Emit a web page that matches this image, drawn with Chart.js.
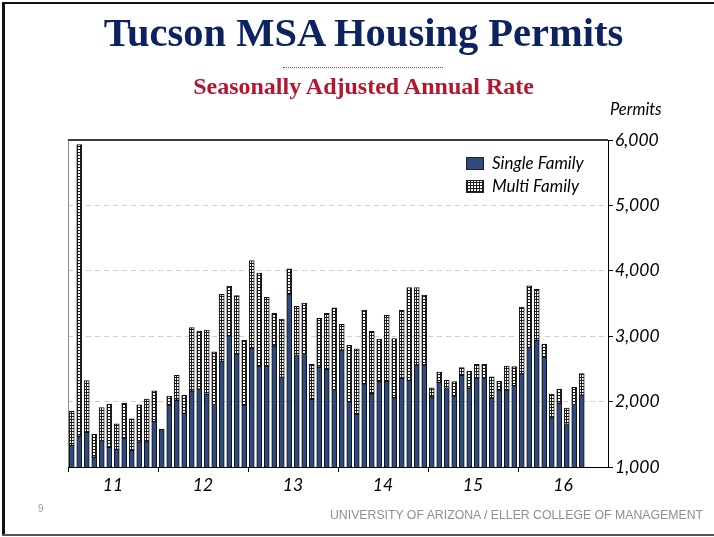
<!DOCTYPE html>
<html>
<head>
<meta charset="utf-8">
<script src="https://cdn.jsdelivr.net/npm/chart.js@4.4.0/dist/chart.umd.min.js"></script>
<style>
  html, body { margin: 0; padding: 0; background: #fff; }
  #page { position: relative; width: 714px; height: 537px; overflow: hidden; background: #fff; }
  #chart { position: absolute; left: 0; top: 0; }
  .title { position: absolute; left: 0; width: 727px; text-align: center; font-family: "Liberation Serif", "Times New Roman", serif; font-weight: bold; }
  #t1 { top: 9px; font-size: 40.5px; color: #0d2260; }
  #t2 { top: 73px; font-size: 24px; color: #b5152d; }
  #rule { position: absolute; left: 283px; top: 67px; width: 160px; border-top: 1px dotted #c0392b; }
  #permits { position: absolute; left: 610px; top: 99px; font: italic 16.5px Lato, "Open Sans", sans-serif; color: #000; }
  #pg { position: absolute; left: 38px; top: 503px; font: 10px "Liberation Sans", Arial, sans-serif; color: #999; }
  #foot { position: absolute; left: 330px; top: 507px; font: 13px "Liberation Sans Narrow", "Liberation Sans", Arial, sans-serif; color: #8f8f8f; white-space: nowrap; transform-origin: 0 0; }
  .edge { position: absolute; background: #111; }
</style>
</head>
<body>
<div id="page">
  <canvas id="chart" width="714" height="537"></canvas>
  <div class="edge" style="left:2px; top:2px; width:3px; height:534px;"></div>
  <div class="edge" style="left:2px; top:2px; width:712px; height:2px;"></div>
  <div class="edge" style="left:2px; top:534px; width:712px; height:2px; background:#555;"></div>
  <div class="title" id="t1">Tucson MSA Housing Permits</div>
  <div id="rule"></div>
  <div class="title" id="t2">Seasonally Adjusted Annual Rate</div>
  <div id="permits">Permits</div>
  <div id="pg">9</div>
  <div id="foot">UNIVERSITY OF ARIZONA / ELLER COLLEGE OF MANAGEMENT</div>
</div>
<script>
// Years shown on the axis (2011 - 2016), monthly bars
const yearLabels = ['11', '12', '13', '14', '15', '16'];

// Single family permits, SAAR, Jan 2011 - Sep 2016
const singleFamily = [
  1330, 1470, 1530, 1150, 1390, 1300, 1270, 1440, 1250, 1380, 1385, 1695,
  1577, 1945, 2020, 1820, 2160, 2190, 2110, 1955, 2615, 3010, 2725, 1945,
  2815, 2540, 2540, 2850, 2370, 3645, 2705, 2720, 2035, 2525, 2495, 2170,
  2785, 2000, 1805, 2275, 2120, 2310, 2310, 2060, 2355, 2325, 2560, 2560,
  2070, 2295, 2200, 2090, 2400, 2205, 2365, 2365, 2055, 2175, 2175, 2245,
  2425, 2830, 2935, 2680, 1750, 1975, 1650, 1955, 2100
];

// Multi family permits, SAAR, stacked on top
const multiFamily = [
  520, 4460, 790, 350, 520, 660, 390, 535, 485, 570, 655, 470,
  0, 140, 380, 280, 970, 890, 985, 805, 1025, 755, 895, 990,
  1340, 1425, 1055, 500, 890, 385, 750, 785, 535, 750, 855, 1265,
  395, 860, 1000, 1125, 955, 645, 1010, 905, 1040, 1420, 1185, 1070,
  140, 155, 130, 215, 120, 260, 205, 205, 325, 135, 370, 290,
  1020, 940, 780, 200, 365, 215, 250, 265, 330
];

const monthLabels = [];
yearLabels.forEach(y => {
  for (let m = 1; m <= 12; m++) monthLabels.push(m + '/' + y);
});

const canvas = document.getElementById('chart');
const ctx = canvas.getContext('2d');

// small grid pattern for the multi family bars
function makeChecker() {
  const c = document.createElement('canvas');
  c.width = 3; c.height = 3;
  const g = c.getContext('2d');
  g.fillStyle = '#1b1b1b';
  g.fillRect(0, 0, 3, 3);
  g.fillStyle = '#ffffff';
  g.fillRect(0, 0, 2, 2);
  return ctx.createPattern(c, 'repeat');
}
const checker = makeChecker();
const sfColor = '#2f4a7e';
const tickFont = { family: 'Lato, "Open Sans", sans-serif', size: 17.5, style: 'italic' };

// frame lines and the legend inside the plot
const framePlugin = {
  id: 'frame',
  afterDraw(chart) {
    const a = chart.chartArea;
    const c = chart.ctx;
    c.save();
    c.strokeStyle = '#8a8a8a';
    c.lineWidth = 1;
    c.beginPath();
    c.moveTo(a.left + 0.5, a.top);
    c.lineTo(a.left + 0.5, a.bottom);
    c.stroke();
    c.strokeStyle = '#3c3c3c';
    c.lineWidth = 2;
    c.beginPath();
    c.moveTo(a.left, a.top);
    c.lineTo(a.right, a.top);
    c.stroke();

    // legend
    const items = [
      { label: 'Single Family', fill: sfColor },
      { label: 'Multi Family', fill: checker }
    ];
    c.font = 'italic 17px Lato, "Open Sans", sans-serif';
    c.textBaseline = 'middle';
    items.forEach((it, i) => {
      const y = 157 + i * 23;
      c.fillStyle = it.fill;
      c.fillRect(466, y, 18, 13);
      c.strokeStyle = '#222';
      c.lineWidth = 1;
      c.strokeRect(466.5, y + 0.5, 17, 12);
      c.fillStyle = '#000';
      c.fillText(it.label, 492, y + 7);
    });
    c.restore();
  }
};

new Chart(ctx, {
  type: 'bar',
  data: {
    labels: monthLabels,
    datasets: [
      {
        label: 'Single Family',
        data: singleFamily,
        backgroundColor: sfColor,
        borderColor: '#111',
        borderWidth: 1,
        borderSkipped: false,
        barThickness: 5
      },
      {
        label: 'Multi Family',
        data: multiFamily,
        backgroundColor: checker,
        borderColor: '#111',
        borderWidth: 1,
        borderSkipped: false,
        barThickness: 5
      }
    ]
  },
  options: {
    responsive: false,
    animation: false,
    layout: { padding: { left: 68, top: 140, right: 0, bottom: 0 } },
    plugins: {
      legend: { display: false },
      tooltip: { enabled: false }
    },
    scales: {
      x: {
        stacked: true,
        afterFit: s => { s.height = 70; },
        grid: {
          offset: true,
          drawOnChartArea: false,
          drawTicks: true,
          tickLength: 5,
          tickColor: c => (c.index % 12 === 0 ? '#000' : 'rgba(0,0,0,0)')
        },
        border: { display: true, color: '#000', width: 1 },
        ticks: {
          autoSkip: false,
          maxRotation: 0,
          minRotation: 0,
          padding: 3,
          labelOffset: 3.75,
          color: '#000',
          font: tickFont,
          callback: (v, i) => (i % 12 === 5 ? yearLabels[Math.floor(i / 12)] : '')
        }
      },
      y: {
        stacked: true,
        position: 'right',
        min: 1000,
        max: 6000,
        afterFit: s => { s.width = 106; },
        grid: {
          color: '#cfcfcf',
          lineWidth: 1,
          drawTicks: true,
          tickLength: 5,
          tickColor: '#000'
        },
        border: { display: true, color: '#000', width: 1, dash: [5, 4] },
        ticks: {
          stepSize: 1000,
          padding: 2,
          color: '#000',
          font: tickFont,
          callback: v => v.toLocaleString('en-US')
        }
      }
    }
  },
  plugins: [framePlugin]
});

// squeeze the footer to the condensed width of the original
const foot = document.getElementById('foot');
const fw = foot.getBoundingClientRect().width;
foot.style.transform = 'scaleX(' + (373 / fw) + ')';
</script>
</body>
</html>
